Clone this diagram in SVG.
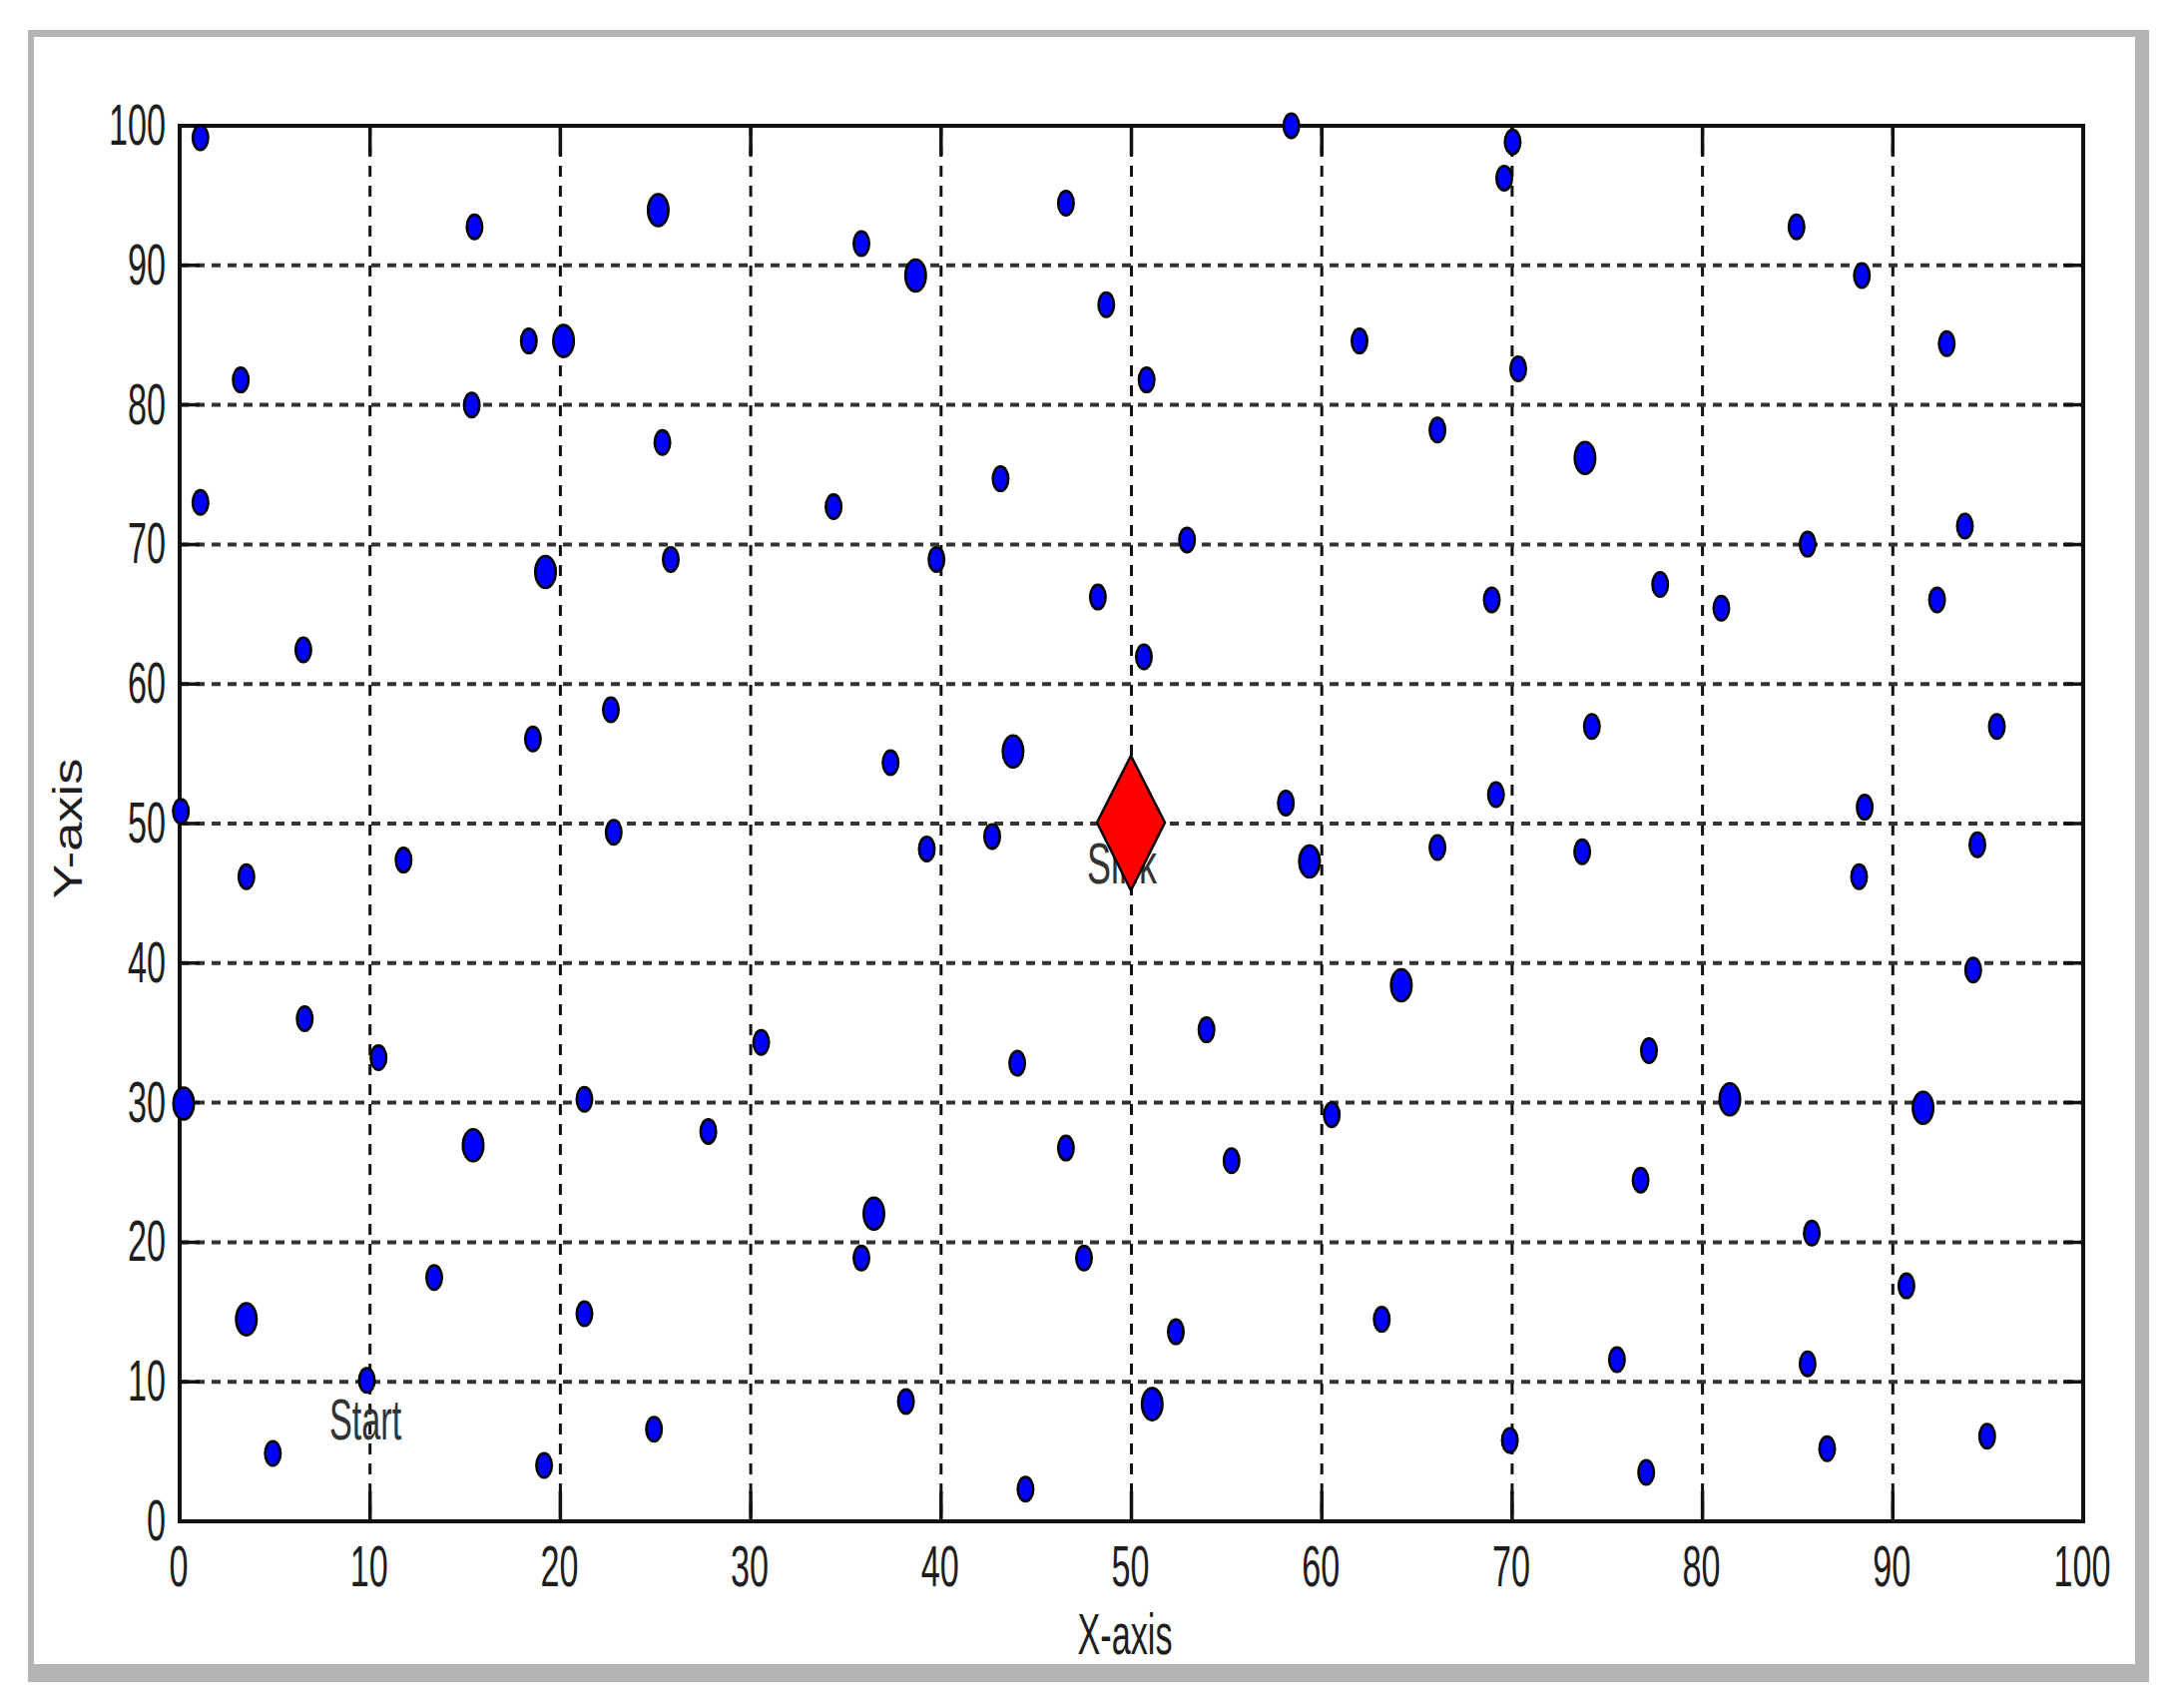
<svg xmlns="http://www.w3.org/2000/svg" xmlns:xlink="http://www.w3.org/1999/xlink" width="2186" height="1711" viewBox="0 0 2186 1711">
<style>
.t{font-family:"Liberation Sans",Arial,sans-serif;font-size:57px;fill:#1e1e1e}
.lab{font-family:"Liberation Sans",Arial,sans-serif;font-size:57px;fill:#333}
.gv{stroke:#111;stroke-width:3;stroke-dasharray:11 9;fill:none}
.gh{stroke:#333;stroke-width:4;stroke-dasharray:9 7;fill:none}
.tk{stroke:#111;stroke-width:3.5;fill:none}
.n{fill:#0000ff;stroke:#000;stroke-width:2.6}
</style>
<defs>
<ellipse id="d" cx="0" cy="0" rx="7.7" ry="12.2"/>
<ellipse id="D" cx="0" cy="0" rx="10.2" ry="16"/>
</defs>
<rect x="0" y="0" width="2186" height="1711" fill="#fff"/>
<g id="outer-frame">
<rect x="28" y="30" width="2125" height="1655" fill="#b4b4b4"/>
<rect x="34" y="37" width="2105" height="1630" fill="#fff"/>
</g>
<g id="grid">
<path class="gv" d="M370.7 126V1524M561.4 126V1524M752.1 126V1524M942.8 126V1524M1133.5 126V1524M1324.2 126V1524M1514.9 126V1524M1705.6 126V1524M1896.3 126V1524"/>
<path class="gh" d="M180 1384.2H2087M180 1244.4H2087M180 1104.6H2087M180 964.8H2087M180 825H2087M180 685.2H2087M180 545.4H2087M180 405.6H2087M180 265.8H2087"/>
<path class="tk" d="M370.7 1524v-30M561.4 1524v-30M752.1 1524v-30M942.8 1524v-30M1133.5 1524v-30M1324.2 1524v-30M1514.9 1524v-30M1705.6 1524v-30M1896.3 1524v-30M370.7 126v30M561.4 126v30M752.1 126v30M942.8 126v30M1133.5 126v30M1324.2 126v30M1514.9 126v30M1705.6 126v30M1896.3 126v30"/>
<path class="tk" d="M180 1384.2h20M180 1244.4h20M180 1104.6h20M180 964.8h20M180 825h20M180 685.2h20M180 545.4h20M180 405.6h20M180 265.8h20M2087 1384.2h-20M2087 1244.4h-20M2087 1104.6h-20M2087 964.8h-20M2087 825h-20M2087 685.2h-20M2087 545.4h-20M2087 405.6h-20M2087 265.8h-20"/>
<rect x="180" y="126" width="1907" height="1398" fill="none" stroke="#111" stroke-width="4"/>
</g>
<g id="y-ticks" class="t" text-anchor="end">
<text transform="translate(166,145) scale(0.6,1)">100</text>
<text transform="translate(166,284.8) scale(0.6,1)">90</text>
<text transform="translate(166,424.6) scale(0.6,1)">80</text>
<text transform="translate(166,564.4) scale(0.6,1)">70</text>
<text transform="translate(166,704.2) scale(0.6,1)">60</text>
<text transform="translate(166,844) scale(0.6,1)">50</text>
<text transform="translate(166,983.8) scale(0.6,1)">40</text>
<text transform="translate(166,1123.6) scale(0.6,1)">30</text>
<text transform="translate(166,1263.4) scale(0.6,1)">20</text>
<text transform="translate(166,1403.2) scale(0.6,1)">10</text>
<text transform="translate(166,1543) scale(0.6,1)">0</text>
</g>
<g id="x-ticks" class="t" text-anchor="middle">
<text transform="translate(179,1589) scale(0.6,1)">0</text>
<text transform="translate(369.7,1589) scale(0.6,1)">10</text>
<text transform="translate(560.4,1589) scale(0.6,1)">20</text>
<text transform="translate(751.1,1589) scale(0.6,1)">30</text>
<text transform="translate(941.8,1589) scale(0.6,1)">40</text>
<text transform="translate(1132.5,1589) scale(0.6,1)">50</text>
<text transform="translate(1323.2,1589) scale(0.6,1)">60</text>
<text transform="translate(1513.9,1589) scale(0.6,1)">70</text>
<text transform="translate(1704.6,1589) scale(0.6,1)">80</text>
<text transform="translate(1895.3,1589) scale(0.6,1)">90</text>
<text transform="translate(2086,1589) scale(0.6,1)">100</text>
</g>
<g id="axis-labels">
<text class="t" text-anchor="middle" transform="translate(1127,1657) scale(0.6,1)">X-axis</text>
<text class="t" text-anchor="middle" style="font-size:40px" transform="translate(82,830) rotate(-90) scale(1.31,1)">Y-axis</text>
</g>
<g id="nodes" class="n">
<use id="n1" href="#d" x="200.8" y="138"/>
<use id="n2" href="#d" x="475.4" y="227.2"/>
<use id="n3" href="#D" x="659.4" y="210.5"/>
<use id="n4" href="#d" x="863" y="244"/>
<use id="n5" href="#D" x="917.3" y="276"/>
<use id="n6" href="#d" x="1067.9" y="203.5"/>
<use id="n7" href="#d" x="1293.7" y="126"/>
<use id="n8" href="#d" x="1515.4" y="142.2"/>
<use id="n9" href="#d" x="1507" y="178.4"/>
<use id="n10" href="#d" x="1799.8" y="227.2"/>
<use id="n11" href="#d" x="1865.3" y="276"/>
<use id="n12" href="#d" x="1950.3" y="344.3"/>
<use id="n13" href="#d" x="241.2" y="380.6"/>
<use id="n14" href="#d" x="529.8" y="341.6"/>
<use id="n15" href="#D" x="564.6" y="341.6"/>
<use id="n16" href="#d" x="1108.3" y="305.3"/>
<use id="n17" href="#d" x="1148.7" y="380.6"/>
<use id="n18" href="#d" x="1362" y="341.6"/>
<use id="n19" href="#d" x="1521" y="369.4"/>
<use id="n20" href="#d" x="472.6" y="405.7"/>
<use id="n21" href="#d" x="663.6" y="443.3"/>
<use id="n22" href="#d" x="1440.1" y="430.8"/>
<use id="n23" href="#D" x="1587.9" y="458.7"/>
<use id="n24" href="#d" x="200.8" y="503.3"/>
<use id="n25" href="#d" x="835.1" y="507.5"/>
<use id="n26" href="#d" x="1002.4" y="479.6"/>
<use id="n27" href="#d" x="1189.2" y="540.9"/>
<use id="n28" href="#d" x="1810.9" y="545.1"/>
<use id="n29" href="#d" x="1968.5" y="527"/>
<use id="n30" href="#D" x="546.5" y="573"/>
<use id="n31" href="#d" x="672" y="560.4"/>
<use id="n32" href="#d" x="938.2" y="560.4"/>
<use id="n33" href="#d" x="1099.9" y="598.1"/>
<use id="n34" href="#d" x="1494.5" y="600.9"/>
<use id="n35" href="#d" x="1663.2" y="585.5"/>
<use id="n36" href="#d" x="1724.5" y="609.2"/>
<use id="n37" href="#d" x="1940.6" y="600.9"/>
<use id="n38" href="#d" x="303.9" y="651"/>
<use id="n39" href="#d" x="1146" y="658"/>
<use id="n40" href="#d" x="612" y="711"/>
<use id="n41" href="#d" x="533.9" y="740.3"/>
<use id="n42" href="#d" x="892.2" y="764"/>
<use id="n43" href="#D" x="1014.9" y="752.8"/>
<use id="n44" href="#d" x="1594.8" y="727.7"/>
<use id="n45" href="#d" x="2000.5" y="727.7"/>
<use id="n46" href="#d" x="181.2" y="812.8"/>
<use id="n47" href="#d" x="1288.2" y="804.4"/>
<use id="n48" href="#d" x="1498.7" y="796"/>
<use id="n49" href="#d" x="1868.1" y="808.6"/>
<use id="n50" href="#d" x="246.8" y="878.3"/>
<use id="n51" href="#d" x="404.3" y="861.6"/>
<use id="n52" href="#d" x="614.8" y="833.7"/>
<use id="n53" href="#d" x="928.5" y="850.4"/>
<use id="n54" href="#d" x="994" y="837.9"/>
<use id="n55" href="#D" x="1311.9" y="863"/>
<use id="n56" href="#d" x="1440.1" y="849"/>
<use id="n57" href="#d" x="1585.1" y="853.2"/>
<use id="n58" href="#d" x="1862.5" y="878.3"/>
<use id="n59" href="#d" x="1981" y="846.2"/>
<use id="n60" href="#D" x="1403.9" y="987"/>
<use id="n61" href="#d" x="1976.8" y="971.7"/>
<use id="n62" href="#d" x="305.3" y="1020.5"/>
<use id="n63" href="#d" x="379.2" y="1059.5"/>
<use id="n64" href="#d" x="762.6" y="1044.2"/>
<use id="n65" href="#d" x="1019.1" y="1065.1"/>
<use id="n66" href="#d" x="1208.7" y="1031.6"/>
<use id="n67" href="#d" x="1652" y="1052.5"/>
<use id="n68" href="#D" x="184" y="1105.5"/>
<use id="n69" href="#d" x="585.5" y="1101.3"/>
<use id="n70" href="#d" x="1334.2" y="1116.7"/>
<use id="n71" href="#D" x="1733" y="1101.3"/>
<use id="n72" href="#D" x="1926.6" y="1109.7"/>
<use id="n73" href="#D" x="474" y="1147.3"/>
<use id="n74" href="#d" x="709.6" y="1133.4"/>
<use id="n75" href="#d" x="1067.9" y="1150.1"/>
<use id="n76" href="#d" x="1233.8" y="1162.7"/>
<use id="n77" href="#D" x="875.5" y="1215.7"/>
<use id="n78" href="#d" x="1643.6" y="1182.2"/>
<use id="n79" href="#d" x="1815.1" y="1235.2"/>
<use id="n80" href="#d" x="435" y="1279.8"/>
<use id="n81" href="#d" x="863" y="1260.3"/>
<use id="n82" href="#d" x="1086" y="1260.3"/>
<use id="n83" href="#d" x="1909.9" y="1288.1"/>
<use id="n84" href="#D" x="246.8" y="1321.6"/>
<use id="n85" href="#d" x="585.5" y="1316"/>
<use id="n86" href="#d" x="1178" y="1334.1"/>
<use id="n87" href="#d" x="1384.3" y="1321.6"/>
<use id="n88" href="#d" x="1619.9" y="1362"/>
<use id="n89" href="#d" x="1810.9" y="1366.2"/>
<use id="n90" href="#d" x="367.5" y="1382.8"/>
<use id="n91" href="#d" x="273.3" y="1456"/>
<use id="n92" href="#d" x="545.1" y="1468"/>
<use id="n93" href="#d" x="655.2" y="1431.7"/>
<use id="n94" href="#d" x="907.6" y="1403.9"/>
<use id="n95" href="#D" x="1154.3" y="1406.6"/>
<use id="n96" href="#d" x="1027.4" y="1491.7"/>
<use id="n97" href="#d" x="1512.6" y="1442.9"/>
<use id="n98" href="#d" x="1649.2" y="1475"/>
<use id="n99" href="#d" x="1830.5" y="1451.3"/>
<use id="n100" href="#d" x="1990.8" y="1438.7"/>
</g>
<g id="start">
<text class="lab" transform="translate(330,1442) scale(0.6,1)">Start</text>
</g>
<g id="sink">
<text class="lab" transform="translate(1089,885) scale(0.63,1)">Sink</text>
<polygon points="1133,757 1167,824 1133,892 1099,824" fill="#ff0000" stroke="#000" stroke-width="2.5"/>
</g>
</svg>
